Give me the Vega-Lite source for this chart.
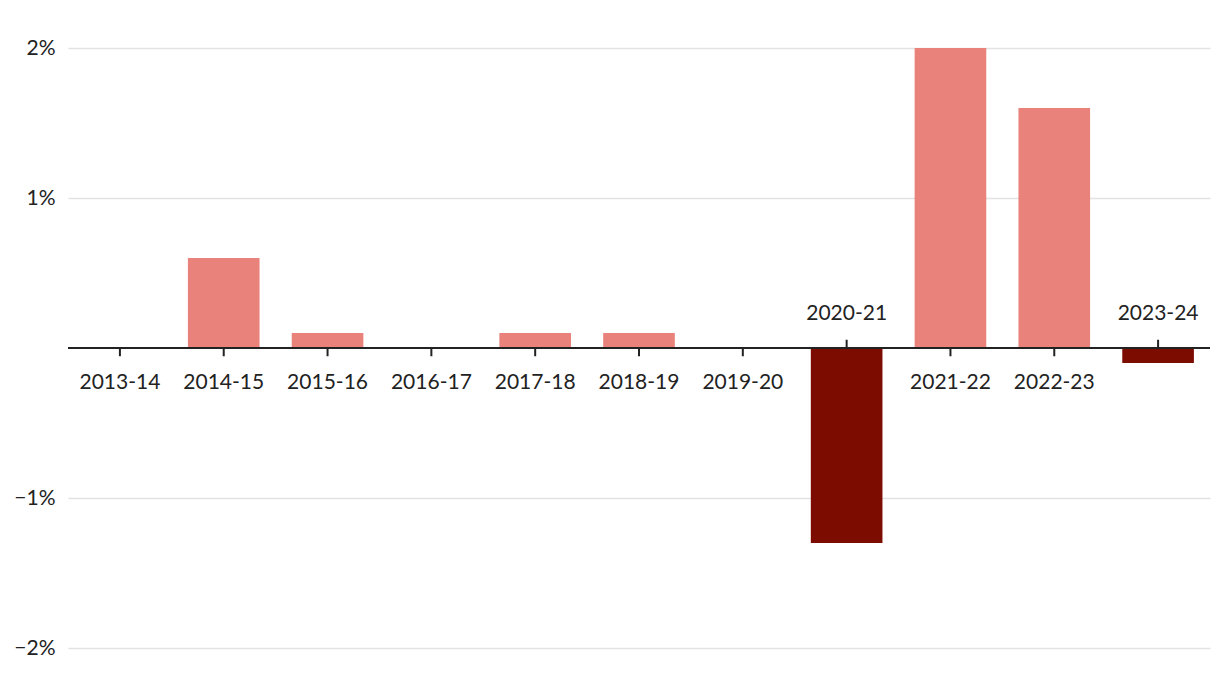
{
  "$schema": "https://vega.github.io/schema/vega-lite/v6.json",
  "width": 1142,
  "height": 600,
  "autosize": {"type": "none"},
  "padding": {"left": 68, "top": 48, "right": 10, "bottom": 30},
  "background": "white",
  "config": {"view": {"stroke": null}, "font": "Lato"},
  "data": {
    "values": [
      {"year": "2013-14", "v": 0},
      {"year": "2014-15", "v": 0.6},
      {"year": "2015-16", "v": 0.1},
      {"year": "2016-17", "v": 0},
      {"year": "2017-18", "v": 0.1},
      {"year": "2018-19", "v": 0.1},
      {"year": "2019-20", "v": 0},
      {"year": "2020-21", "v": -1.3},
      {"year": "2021-22", "v": 2.0},
      {"year": "2022-23", "v": 1.6},
      {"year": "2023-24", "v": -0.1}
    ]
  },
  "encoding": {
    "x": {"field": "year", "type": "nominal", "sort": null, "axis": null, "scale": {"paddingInner": 0.31, "paddingOuter": 0.155}}
  },
  "layer": [
    {
      "mark": {"type": "bar"},
      "encoding": {
        "y": {"field": "v", "type": "quantitative", "scale": {"domain": [-2, 2], "nice": false},
          "axis": {"values": [-2, -1, 1, 2], "title": null, "domain": false, "ticks": false,
            "labelExpr": "(datum.value < 0 ? '\u2212' + abs(datum.value) : datum.value) + '%'",
            "labelFontSize": 21, "labelColor": "#222222", "labelPadding": 13, "labelFont": "Lato",
            "gridColor": "#e2e2e2", "gridWidth": 1.5}},
        "color": {"condition": {"test": "datum.v < 0", "value": "#7d0c00"}, "value": "#e8827a"}
      }
    },
    {
      "mark": {"type": "rule", "color": "#222222", "strokeWidth": 2},
      "encoding": {"y": {"datum": 0}, "x": null}
    },
    {
      "transform": [{"filter": "datum.v >= 0"}],
      "mark": {"type": "rule", "color": "#222222", "strokeWidth": 2},
      "encoding": {"y": {"datum": 0}, "y2": {"datum": -0.055}}
    },
    {
      "transform": [{"filter": "datum.v < 0"}],
      "mark": {"type": "rule", "color": "#222222", "strokeWidth": 2},
      "encoding": {"y": {"datum": 0}, "y2": {"datum": 0.055}}
    },
    {
      "transform": [{"filter": "datum.v >= 0"}],
      "mark": {"type": "text", "dy": 35, "baseline": "middle", "fontSize": 21, "color": "#222222", "font": "Lato"},
      "encoding": {"y": {"datum": 0}, "text": {"field": "year"}}
    },
    {
      "transform": [{"filter": "datum.v < 0"}],
      "mark": {"type": "text", "dy": -34, "baseline": "middle", "fontSize": 21, "color": "#222222", "font": "Lato"},
      "encoding": {"y": {"datum": 0}, "text": {"field": "year"}}
    }
  ]
}
